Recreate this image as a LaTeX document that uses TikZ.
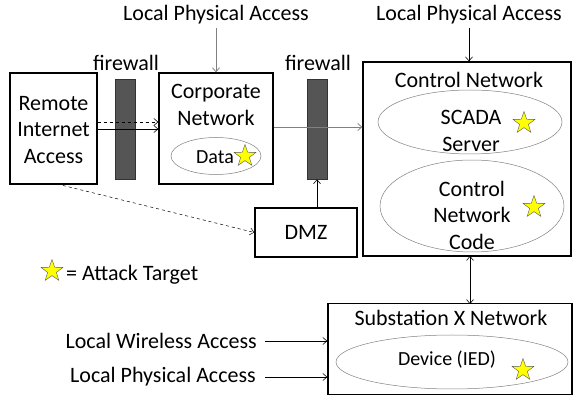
\documentclass[tikz,border=0pt]{standalone}
\usepackage{fontspec}
\setmainfont{Carlito}
\usetikzlibrary{arrows,arrows.meta,shapes.geometric,positioning}
\definecolor{wallc}{RGB}{85,85,85}
\definecolor{starc}{RGB}{255,255,0}
\tikzset{
  netbox/.style={draw=black, line width=1.3pt, inner sep=0pt},
  zone/.style={draw=gray, line width=0.5pt, ellipse, inner sep=0pt},
  wall/.style={draw=black!80, fill=wallc, line width=0.6pt, minimum width=20pt, minimum height=100pt, inner sep=0pt},
  target/.style={star, star points=5, star point ratio=2.5, fill=starc, draw=black!65, line width=0.4pt, minimum size=23pt, inner sep=0pt},
  txt/.style={font=\fontsize{22}{26.5}\selectfont, align=center, inner sep=0pt},
  small/.style={txt, font=\fontsize{20}{24}\selectfont}
}

\begin{document}
\begin{tikzpicture}[x=1pt,y=-1pt,>={Straight Barb[length=4pt,width=7pt]}]
\useasboundingbox (0,0) rectangle (574,398);

% boxes
\node[netbox, minimum width=87pt, minimum height=111pt] (remote) at (53.5,128.5) {};
\node[netbox, minimum width=114pt, minimum height=111pt] (corp) at (216,128.5) {};
\node[netbox, minimum width=208pt, minimum height=194pt] (ctrl) at (467,159) {};
\node[netbox, minimum width=102pt, minimum height=49pt] (dmz) at (306,232.5) {};
\node[netbox, minimum width=244pt, minimum height=91pt] (sub) at (450,349) {};

% firewalls
\foreach \n/\x in {fwa/125, fwb/317}{
\node[wall] (\n) at (\x,129) {};
\node[txt] at (\x+1,63) {firewall};
}

% zones inside the networks
\node[zone, minimum width=90pt, minimum height=37pt] (data) at (216,156) {};
\node[zone, minimum width=184pt, minimum height=64pt] (scada) at (470,122) {};
\node[zone, minimum width=184pt, minimum height=92pt] (code) at (472,206) {};
\node[zone, minimum width=232pt, minimum height=54pt] (ied) at (452,362) {};

% texts
\node[txt] at (53.5,130) {Remote\\Internet\\Access};
\node[txt] at (216,105) {Corporate\\Network};
\node[small] at (215,157) {Data};
\node[txt] at (469,80) {Control Network};
\node[txt] at (471,131) {SCADA\\Server};
\node[txt] at (472,215) {Control\\Network\\Code};
\node[txt] at (dmz) {DMZ};
\node[txt] at (451,318) {Substation X Network};
\node[small] at (447,360) {Device (IED)};

% attack targets
\node[target] (ta) at (245,156) {};
\node[target] (tb) at (524,123) {};
\node[target] (tc) at (534,207) {};
\node[target] (td) at (523,370) {};
\node[target] (tk) at (52,271) {};
\node[txt, anchor=west] (key) at (66,275) {= Attack Target};

% access points
\node[txt] (lpa) at (216,15) {Local Physical Access};
\node[txt] (lpb) at (469,15) {Local Physical Access};
\node[txt, anchor=east] (lwc) at (257,341) {Local Wireless Access};
\node[txt, anchor=east] (lpc) at (256,377) {Local Physical Access};

% connections
\draw[->, gray, line width=0.8pt] (lpa.south) ++(0,3) -- (corp.north);
\draw[->, line width=0.6pt] (lpb.south) ++(0,3) -- (ctrl.north -| lpb);
\draw[->, dashed, line width=0.6pt] (remote.east |- 0,122) -- (corp.west |- 0,122);
\draw[->, line width=0.6pt] (remote.east |- 0,129) -- (corp.west |- 0,129);
\draw[->, gray, line width=0.8pt] (corp.east |- 0,127) -- (ctrl.west |- 0,127);
\draw[->, line width=0.6pt] (fwb.south |- dmz.north) -- (fwb.south);
\draw[->, dashed, line width=0.5pt] (57,184) -- (dmz.west);
\draw[<->, line width=0.6pt] (470,256) -- (470,304);
\draw[->, line width=0.6pt] (lwc.east) ++(8,0) -- (sub.west |- lwc.east);
\draw[->, line width=0.6pt] (lpc.east) ++(9,0) -- (sub.west |- lpc.east);
\end{tikzpicture}
\end{document}
